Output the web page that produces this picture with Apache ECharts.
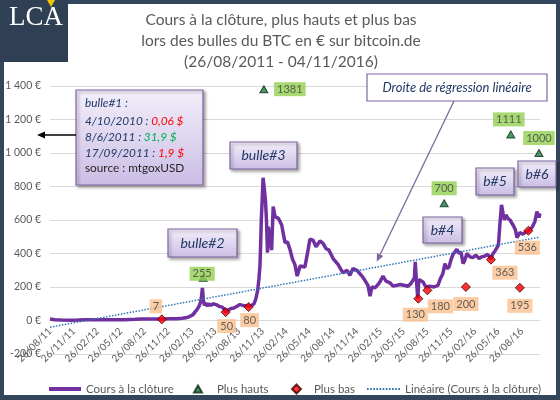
<!DOCTYPE html>
<html><head><meta charset="utf-8">
<script src="https://cdn.jsdelivr.net/npm/echarts@6/dist/echarts.min.js"></script>
<style>html,body{margin:0;padding:0;background:#fff}#c{width:560px;height:400px}</style>
</head><body><div id="c"></div>
<script>
// ---------- DATA ----------
const tickLabels = ['26/08/11','26/11/11','26/02/12','26/05/12','26/08/12','26/11/12','26/02/13','26/05/13','26/08/13','26/11/13','26/02/14','26/05/14','26/08/14','26/11/14','26/02/15','26/05/15','26/08/15','26/11/15','26/02/16','26/05/16','26/08/16'];
const yTicks = [-200, 0, 200, 400, 600, 800, 1000, 1200, 1400];
const dateStart = '2011-08-26';
const dateEnd = '2016-11-04';

const closeDates = ['2011-08-26','2011-09-14','2011-10-11','2011-11-11','2011-12-12','2012-01-12','2012-02-16','2012-03-26','2012-05-04','2012-06-11','2012-07-20','2012-08-20','2012-09-16','2012-10-17','2012-11-05','2012-12-03','2012-12-30','2013-01-18','2013-02-02','2013-02-18','2013-03-02','2013-03-09','2013-03-17','2013-03-25','2013-03-31','2013-04-03','2013-04-07','2013-04-11','2013-04-15','2013-04-21','2013-04-25','2013-05-02','2013-05-10','2013-05-18','2013-05-30','2013-06-10','2013-06-22','2013-06-30','2013-07-06','2013-07-15','2013-07-27','2013-08-07','2013-08-19','2013-08-30','2013-09-11','2013-09-23','2013-10-04','2013-10-14','2013-10-24','2013-10-31','2013-11-07','2013-11-12','2013-11-16','2013-11-19','2013-11-21','2013-11-25','2013-11-28','2013-12-03','2013-12-07','2013-12-11','2013-12-15','2013-12-18','2013-12-25','2013-12-31','2014-01-06','2014-01-13','2014-01-26','2014-02-08','2014-02-14','2014-02-21','2014-03-02','2014-03-12','2014-03-22','2014-03-31','2014-04-09','2014-04-20','2014-05-09','2014-05-21','2014-05-28','2014-06-09','2014-06-21','2014-07-06','2014-07-18','2014-07-29','2014-08-10','2014-08-26','2014-09-14','2014-10-03','2014-10-19','2014-10-30','2014-11-11','2014-11-26','2014-12-16','2014-12-27','2015-01-08','2015-01-16','2015-01-23','2015-02-04','2015-02-16','2015-02-23','2015-03-07','2015-03-19','2015-04-03','2015-04-15','2015-04-30','2015-05-12','2015-05-27','2015-06-12','2015-06-23','2015-07-01','2015-07-07','2015-07-10','2015-07-14','2015-07-20','2015-07-24','2015-07-30','2015-08-09','2015-08-20','2015-09-05','2015-09-20','2015-10-06','2015-10-14','2015-10-25','2015-11-02','2015-11-10','2015-11-18','2015-11-25','2015-12-03','2015-12-11','2015-12-18','2015-12-26','2016-01-03','2016-01-11','2016-01-18','2016-01-26','2016-02-07','2016-02-18','2016-03-01','2016-03-13','2016-03-24','2016-04-05','2016-04-16','2016-04-28','2016-05-06','2016-05-14','2016-05-21','2016-05-27','2016-06-02','2016-06-08','2016-06-14','2016-06-19','2016-06-25','2016-07-03','2016-07-11','2016-07-18','2016-07-26','2016-08-01','2016-08-07','2016-08-18','2016-08-30','2016-09-11','2016-09-20','2016-10-04','2016-10-15','2016-10-23','2016-10-31','2016-11-04'];
const closeValues = [9,5,3,2,3,5,4,4,4,5,7,9,9,9,9,10,11,13,16,25,35,50,65,85,110,135,195,120,90,105,85,100,90,100,95,85,80,68,50,62,72,75,85,95,90,88,85,90,100,130,180,250,330,480,600,740,852,780,720,600,405,560,500,420,680,620,610,570,520,465,470,425,365,335,265,325,320,420,485,480,440,475,460,430,420,370,335,285,300,270,310,300,265,240,210,145,200,195,215,230,265,235,225,205,210,215,210,205,220,240,255,350,250,130,245,240,230,200,205,200,210,245,280,340,310,320,360,395,410,425,400,410,340,360,400,380,375,390,370,380,385,395,365,400,415,420,450,580,690,640,600,630,610,600,590,560,540,495,525,515,530,535,555,590,650,615,640];

const highDates = ['2013-04-10','2013-12-01','2015-10-30','2016-07-14','2016-10-31'];
const highValues = [255, 1381, 700, 1111, 1000];

const lowDates = ['2012-11-01','2013-07-06','2013-10-03','2015-07-22','2015-08-26','2016-01-22','2016-04-28','2016-08-18','2016-09-20'];
const lowValues = [7, 50, 80, 130, 180, 200, 363, 195, 536];

const trendDates = ['2011-08-26','2016-11-04'];
const trendValues = [-40, 498];

// ---------- STYLE / LAYOUT ----------
const highLabelOffsets = [[-1,-4],[26,0],[0,-15],[-2,-15],[0,-15]];
const lowLabelOffsets = [[-6,-13],[1,14],[1,13],[-3,16],[13,16],[0,17],[14,13],[0,18],[-1,17]];
const FONT = 'Lato';
const GREY = '#595959';
const NAVY = '#1F3864';

function parseDMY(s){ const p = s.split('/').map(Number); return Date.UTC(2000+p[2], p[1]-1, p[0]); }
function parseISO(s){ const p = s.split('-').map(Number); return Date.UTC(p[0], p[1]-1, p[2]); }
const tickTimes = tickLabels.map(parseDMY);

function fmtEuro(v){ return String(v).replace(/\B(?=(\d{3})+(?!\d))/g, '\u00a0') + ' €'; }

const G = [];
G.push({type:'rect', z:-100, silent:true, shape:{x:0,y:0,width:560,height:400}, style:{fill:'#34465B'}});
G.push({type:'rect', z:-99, silent:true, shape:{x:4,y:4,width:552,height:391}, style:{fill:'#FFFFFF'}});
// logo
G.push({type:'rect', z:100, shape:{x:0,y:0,width:68,height:62}, style:{fill:'#2F4055'}});
G.push({type:'text', z:101, x:36, y:18, style:{text:'LCA', fill:'#FFFFFF', font:'27px "Liberation Serif"', textAlign:'center', textVerticalAlign:'middle'}});
G.push({type:'polygon', z:102, shape:{points:[[47,0],[55,0],[51,7]]}, style:{fill:'#F2C500'}});
// title
const titleLines = ['Cours à la clôture, plus hauts et plus bas','lors des bulles du BTC en € sur bitcoin.de','(26/08/2011 - 04/11/2016)'];
const titleY = [20, 41, 62];
titleLines.forEach((t,i)=>G.push({type:'text', z:30, x:281, y:titleY[i], style:{text:t, fill:GREY, font:'15.5px '+FONT, textAlign:'center', textVerticalAlign:'middle'}}));

const boxGrad = {type:'linear', x:0, y:0, x2:0, y2:1, colorStops:[{offset:0,color:'#F3EFFA'},{offset:1,color:'#CBBDE5'}]};
function bubble(x,y,w,h,text,fill){
  G.push({type:'rect', z:40, shape:{x:x,y:y,width:w,height:h}, style:{fill:fill||boxGrad, stroke:'#8064A2', lineWidth:1.2, shadowBlur:3, shadowOffsetX:2, shadowOffsetY:2, shadowColor:'rgba(0,0,0,0.35)'}});
  if (text) G.push({type:'text', z:41, x:x+w/2, y:y+h/2, style:{text:text, fill:NAVY, font:'italic 14px '+FONT, textAlign:'center', textVerticalAlign:'middle'}});
}
bubble(76, 90, 127, 95, null);
const bLines = [
  [{t:'bulle#1 :', c:NAVY}],
  [{t:'4/10/2010 : ', c:NAVY},{t:'0,06 $', c:'#FF0000'}],
  [{t:'8/6/2011 : ', c:NAVY},{t:'31,9 $', c:'#00B050'}],
  [{t:'17/09/2011 : ', c:NAVY},{t:'1,9 $', c:'#FF0000'}],
  [{t:'source : mtgoxUSD', c:'#262626', n:true}]
];
const bLineY = [103, 121, 137, 153, 168];
const measureCtx = document.createElement('canvas').getContext('2d');
bLines.forEach((parts,i)=>{
  let x = 85;
  parts.forEach(p=>{
    const font = (p.n ? '' : 'italic ') + '11.8px ' + FONT;
    G.push({type:'text', z:41, x:x, y:bLineY[i], style:{text:p.t, fill:p.c, font:font, textAlign:'left', textVerticalAlign:'middle'}});
    measureCtx.font = font;
    x += measureCtx.measureText(p.t).width;
  });
});
// arrow bulle#1
G.push({type:'line', z:41, shape:{x1:76,y1:135,x2:44,y2:135}, style:{stroke:'#000', lineWidth:1.5}});
G.push({type:'polygon', z:41, shape:{points:[[37,135],[45,131.5],[45,138.5]]}, style:{fill:'#000'}});

bubble(168, 229, 69, 28, 'bulle#2');
bubble(230, 142, 67, 27, 'bulle#3');
bubble(423, 217, 39, 26, 'b#4');
bubble(476, 168, 38, 27, 'b#5');
bubble(518, 161, 38, 26, 'b#6');
// regression annotation
G.push({type:'rect', z:40, shape:{x:367,y:74,width:180,height:27}, style:{fill:'#FFFFFF', stroke:'#8064A2', lineWidth:1.2}});
G.push({type:'text', z:41, x:457, y:87.5, style:{text:'Droite de régression linéaire', fill:NAVY, font:'italic 13px '+FONT, textAlign:'center', textVerticalAlign:'middle'}});
(function(){
  const x1=454, y1=101, x2=376.7, y2=261.7;
  const dx=x2-x1, dy=y2-y1, L=Math.hypot(dx,dy), ux=dx/L, uy=dy/L;
  const bx=x2-ux*8, by=y2-uy*8, px=-uy*3.5, py=ux*3.5;
  G.push({type:'line', z:41, shape:{x1:x1,y1:y1,x2:bx,y2:by}, style:{stroke:'#8064A2', lineWidth:1.3}});
  G.push({type:'polygon', z:41, shape:{points:[[x2,y2],[bx+px,by+py],[bx-px,by-py]]}, style:{fill:'#8064A2'}});
})();

// dotted legend icon
let dotPath = 'path://';
for (let i = 0; i < 11; i++) dotPath += 'M' + (i*3) + ',0h1.6v2h-1.6z';

const chart = echarts.init(document.getElementById('c'), null, {renderer:'canvas'});
const legendText = {color:GREY, fontSize:11.5, fontFamily:FONT};
chart.setOption({
  animation:false,
  backgroundColor:'transparent',
  textStyle:{fontFamily:FONT},
  grid:{left:50, right:20, top:86, bottom:46, containLabel:false, outerBoundsMode:'none'},
  legend:[
    {data:[{name:'Cours à la clôture', icon:'rect'}], left:44, top:378, itemWidth:32, itemHeight:4, textStyle:legendText},
    {data:[{name:'Plus hauts', icon:'triangle'}], left:188, top:378, itemWidth:8, itemHeight:7, textStyle:Object.assign({padding:[0,0,0,10]}, legendText)},
    {data:[{name:'Plus bas', icon:'diamond'}], left:286, top:378, itemWidth:9, itemHeight:9, textStyle:Object.assign({padding:[0,0,0,8]}, legendText)},
    {data:[{name:'Linéaire (Cours à la clôture)', icon:dotPath}], left:362, top:378, itemWidth:33, itemHeight:2, symbolKeepAspect:false, textStyle:legendText}
  ],
  xAxis:{
    type:'value', min:parseISO(dateStart), max:parseISO(dateEnd),
    offset:-33.5,
    axisLine:{show:true, onZero:false, lineStyle:{color:'#D9D9D9', width:1}},
    axisTick:{show:false, customValues:tickTimes},
    splitLine:{show:false},
    axisLabel:{
      customValues:tickTimes, rotate:45, margin:9, fontSize:10, color:GREY, fontFamily:FONT,
      formatter:function(v){
        let best=0, bd=Infinity;
        tickTimes.forEach((t,i)=>{const d=Math.abs(t-v); if(d<bd){bd=d;best=i;}});
        return tickLabels[best];
      }
    }
  },
  yAxis:{
    type:'value', min:yTicks[0], max:yTicks[yTicks.length-1], interval:200,
    axisLine:{show:false}, axisTick:{show:false},
    splitLine:{lineStyle:{color:'#D9D9D9', width:1}},
    axisLabel:{formatter:fmtEuro, fontSize:10.5, color:GREY, margin:9, fontFamily:FONT}
  },
  series:[
    {name:'Cours à la clôture', type:'line', symbol:'none', z:3,
     lineStyle:{color:'#7030A0', width:3.5}, itemStyle:{color:'#7030A0'},
     data:closeDates.map((d,i)=>[parseISO(d), closeValues[i]])},
    {name:'Plus hauts', type:'scatter', symbol:'triangle', symbolSize:[8,7], z:5,
     itemStyle:{color:'#1E7B3E', borderColor:'#0A2A14', borderWidth:1},
     label:{show:true, position:'inside', formatter:p=>String(p.value[1]), color:'#404040', fontSize:11, fontFamily:FONT, backgroundColor:'#92D050', padding:[2,3,1,3]},
     data:highDates.map((d,i)=>({value:[parseISO(d), highValues[i]], label:{offset:highLabelOffsets[i]}}))},
    {name:'Plus bas', type:'scatter', symbol:'diamond', symbolSize:[9,9], z:5,
     itemStyle:{color:'#FF0000', borderColor:'#400000', borderWidth:1},
     label:{show:true, position:'inside', formatter:p=>String(p.value[1]), color:'#404040', fontSize:11, fontFamily:FONT, backgroundColor:'#FAC090', padding:[2,3,1,3]},
     data:lowDates.map((d,i)=>({value:[parseISO(d), lowValues[i]], label:{offset:lowLabelOffsets[i]}}))},
    {name:'Linéaire (Cours à la clôture)', type:'line', symbol:'none', z:4,
     lineStyle:{color:'#2E75B6', width:1.5, type:'dotted'}, itemStyle:{color:'#2E75B6'},
     data:trendDates.map((d,i)=>[parseISO(d), trendValues[i]])}
  ],
  graphic:{elements:G}
});
</script></body></html>
